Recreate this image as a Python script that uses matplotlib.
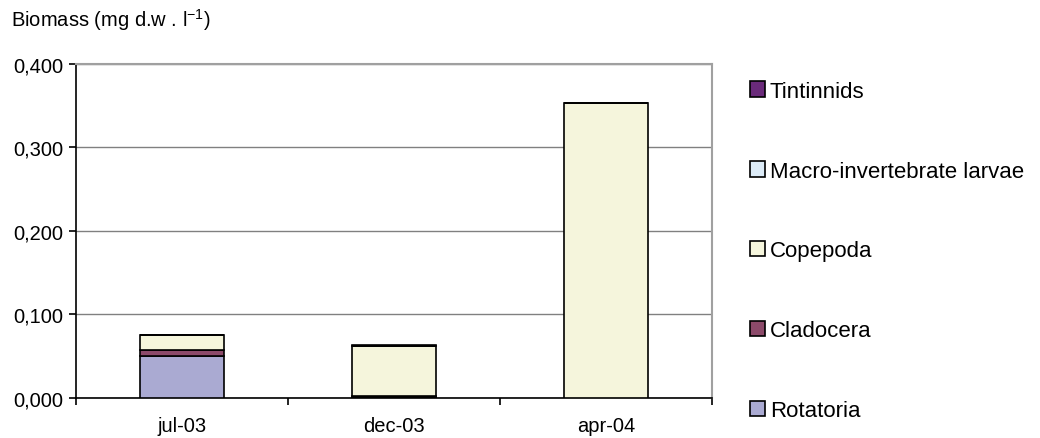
import matplotlib.pyplot as plt
from matplotlib.patches import Patch
from matplotlib.ticker import FuncFormatter, FixedLocator

plt.rcParams['font.family'] = ['Liberation Sans', 'DejaVu Sans']

dates = ['jul-03', 'dec-03', 'apr-04']
rotatoria = [0.050, 0.001, 0.000]
cladocera = [0.0075, 0.001, 0.000]
copepoda = [0.0175, 0.060, 0.353]
macro_larvae = [0.000, 0.000, 0.000]
tintinnids = [0.0005, 0.0015, 0.000]

series = [
    ('Rotatoria', rotatoria, '#aaaad2'),
    ('Cladocera', cladocera, '#8c4a6a'),
    ('Copepoda', copepoda, '#f5f5dc'),
    ('Macro-invertebrate larvae', macro_larvae, '#dcebf7'),
    ('Tintinnids', tintinnids, '#6a2a7a'),
]

fig = plt.figure(figsize=(10.4, 4.39), dpi=100)
ax = fig.add_axes([0.0731, 0.0911, 0.6115, 0.7609])

x = list(range(len(dates)))
bottom = [0.0] * len(dates)
for name, vals, col in series:
    ax.bar(x, vals, width=0.4, bottom=bottom, color=col, edgecolor='black',
           linewidth=1.2, label=name, zorder=3)
    bottom = [b + v for b, v in zip(bottom, vals)]

ax.set_xlim(-0.5, 2.5)
ax.set_ylim(0, 0.4)
ax.set_yticks([0, 0.1, 0.2, 0.3, 0.4])
ax.yaxis.set_major_formatter(FuncFormatter(lambda v, p: f'{v:.3f}'.replace('.', ',')))
ax.yaxis.grid(True, color='#808080', linewidth=1, zorder=0)

ax.set_xticks(x)
ax.set_xticklabels(dates)
ax.xaxis.set_minor_locator(FixedLocator([-0.5, 0.5, 1.5, 2.5]))
ax.tick_params(axis='x', which='major', length=0, labelsize=14.5, pad=13)
ax.tick_params(axis='x', which='minor', length=5, width=1.2, direction='out')
ax.tick_params(axis='y', length=5, width=1.2, direction='out', labelsize=14.5, pad=4)

for s in ['top', 'right']:
    ax.spines[s].set_color('#a0a0a0')
    ax.spines[s].set_linewidth(1.5)
for s in ['left', 'bottom']:
    ax.spines[s].set_color('black')
    ax.spines[s].set_linewidth(1.2)

handles = [Patch(facecolor=col, edgecolor='black', linewidth=1.2, label=name)
           for name, vals, col in series][::-1]
fig.legend(handles=handles, loc='upper left', bbox_to_anchor=(0.721, 0.814),
           frameon=False, fontsize=16, handlelength=0.7, handleheight=0.7,
           handletextpad=0.2, labelspacing=2.65, borderaxespad=0,
           borderpad=0)

fig.text(0.011, 0.955, 'Biomass (mg d.w . l$^{\\mathregular{-1}}$)', fontsize=14.5,
         va='center', ha='left')

fig.savefig('out.png', dpi=100)
